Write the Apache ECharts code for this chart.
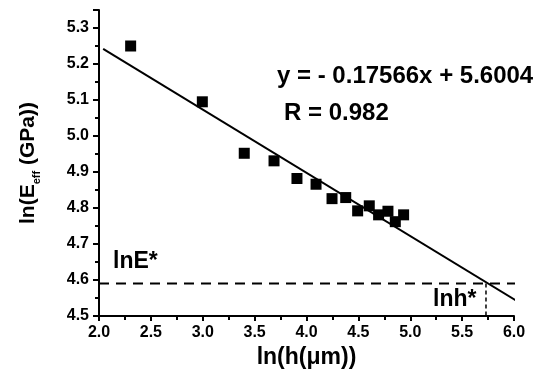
<!DOCTYPE html>
<html>
<head>
<meta charset="utf-8">
<script src="https://cdn.jsdelivr.net/npm/echarts@6/dist/echarts.min.js"></script>
<style>
    html, body { margin: 0; padding: 0; background: #fff; }
    #chart { width: 537px; height: 382px; }
</style>
</head>
<body>
<div id="chart"></div>
<script>
// measured points, ln(h) vs ln(Eeff)
const lnH = [2.305, 2.996, 3.40, 3.687, 3.908, 4.092, 4.246, 4.378, 4.493, 4.605, 4.695, 4.785, 4.856, 4.936];
const lnE = [5.250, 5.095, 4.952, 4.931, 4.882, 4.866, 4.826, 4.829, 4.792, 4.806, 4.781, 4.791, 4.762, 4.781];

// fitted line endpoints as drawn
const fitX = [2.04, 6.02];
const fitY = [5.242, 4.543];

// critical values
const lnEStar = 4.59;
const lnhStar = 5.73;
const dashEndX = 6.12;

const eqText = 'y = - 0.17566x + 5.6004';
const rText = 'R = 0.982';

const font = 'Liberation Sans, Arial, sans-serif';

const chart = echarts.init(document.getElementById('chart'));

const points = lnH.map((x, i) => [x, lnE[i]]);
const fitLine = fitX.map((x, i) => [x, fitY[i]]);

const option = {
    animation: false,
    grid: { left: 99, right: 23, top: 10, bottom: 66 },
    xAxis: {
        type: 'value',
        min: 2,
        max: 6,
        interval: 0.5,
        name: 'ln(h(μm))',
        nameLocation: 'middle',
        nameGap: 29,
        nameTextStyle: { fontFamily: font, fontWeight: 'bold', fontSize: 23, color: '#000' },
        axisLine: { lineStyle: { color: '#000', width: 2 } },
        axisTick: { length: 5, lineStyle: { color: '#000', width: 2 } },
        minorTick: { show: true, splitNumber: 2, length: 4, lineStyle: { color: '#000', width: 2 } },
        splitLine: { show: false },
        axisLabel: {
            fontFamily: font, fontWeight: 'bold', fontSize: 16, color: '#000', margin: 9,
            formatter: v => v.toFixed(1)
        }
    },
    yAxis: {
        type: 'value',
        min: 4.5,
        max: 5.35,
        interval: 0.1,
        name: '{n|ln(E}{s|eff}{n| (GPa))}',
        nameLocation: 'middle',
        nameGap: 60,
        nameTextStyle: {
            fontFamily: font, fontWeight: 'bold', fontSize: 21, color: '#000',
            rich: {
                n: { fontFamily: font, fontWeight: 'bold', fontSize: 21, color: '#000' },
                s: { fontFamily: font, fontWeight: 'bold', fontSize: 11, color: '#000', verticalAlign: 'bottom', padding: [0, 0, -3, 0] }
            }
        },
        axisLine: { lineStyle: { color: '#000', width: 2 } },
        axisTick: { length: 6, lineStyle: { color: '#000', width: 2 } },
        minorTick: { show: true, splitNumber: 2, length: 4, lineStyle: { color: '#000', width: 2 } },
        splitLine: { show: false },
        axisLabel: {
            fontFamily: font, fontWeight: 'bold', fontSize: 16, color: '#000', margin: 10,
            showMaxLabel: false,
            formatter: v => v.toFixed(1)
        }
    },
    series: [
        {
            type: 'scatter',
            data: points,
            symbol: 'rect',
            symbolSize: 11,
            itemStyle: { color: '#000', opacity: 1 },
            z: 3
        },
        {
            type: 'line',
            data: fitLine,
            symbol: 'none',
            clip: false,
            lineStyle: { color: '#000', width: 2 }
        },
        {
            type: 'line',
            data: [[2, lnEStar], [dashEndX, lnEStar]],
            symbol: 'none',
            clip: false,
            lineStyle: { color: '#000', width: 2, type: [10, 7] }
        },
        {
            type: 'line',
            data: [[lnhStar, lnEStar], [lnhStar, 4.5]],
            symbol: 'none',
            lineStyle: { color: '#000', width: 1.5, type: [4, 3] }
        }
    ],
    graphic: [
        {
            type: 'text', left: 277, top: 64,
            style: { text: eqText, fontFamily: font, fontWeight: 'bold', fontSize: 24, fill: '#000' }
        },
        {
            type: 'text', left: 284, top: 101,
            style: { text: rText, fontFamily: font, fontWeight: 'bold', fontSize: 24, fill: '#000' }
        },
        {
            type: 'text', left: 113, top: 250,
            style: { text: 'lnE*', fontFamily: font, fontWeight: 'bold', fontSize: 23, fill: '#000' }
        },
        {
            type: 'text', left: 433, top: 288,
            style: { text: 'lnh*', fontFamily: font, fontWeight: 'bold', fontSize: 23, fill: '#000' }
        }
    ]
};

chart.setOption(option);
</script>
</body>
</html>
